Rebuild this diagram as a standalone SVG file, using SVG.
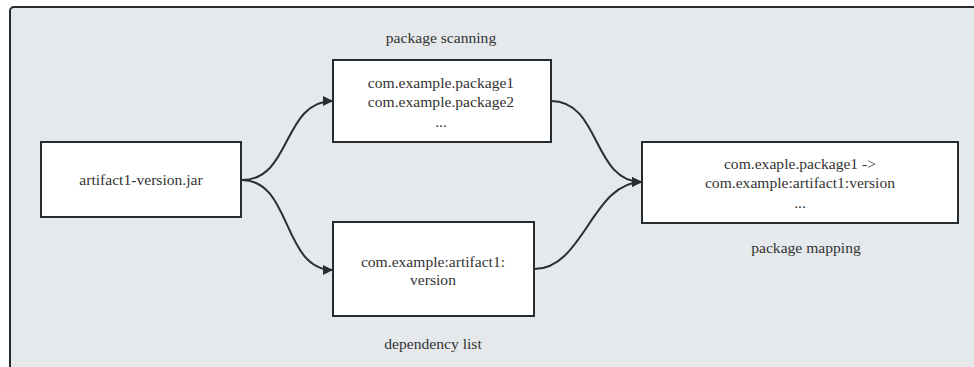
<svg xmlns="http://www.w3.org/2000/svg" width="974" height="367" viewBox="0 0 974 367">
  <defs>
    <marker id="arrow" viewBox="0 0 10 10" refX="10" refY="5" markerWidth="11" markerHeight="10" markerUnits="userSpaceOnUse" orient="auto">
      <path d="M0,0 L10,5 L0,10 z" fill="#2b2d30"/>
    </marker>
  </defs>

  <!-- enclosing panel -->
  <rect x="10" y="7" width="980" height="380" rx="4" ry="4" fill="#e5e9ec" stroke="#272c31" stroke-width="2"/>

  <!-- connectors -->
  <g id="edges" fill="none" stroke="#2b2d30" stroke-width="2" marker-end="url(#arrow)">
    <path d="M242,180 C292,180 282,101 333,101"/>
    <path d="M242,180 C292,180 282,270 333,270"/>
    <path d="M551,101 C601,101 592,182 642,182"/>
    <path d="M534,269 C584,269 592,182 642,182"/>
  </g>

  <!-- nodes: shared box and caption looks set once on the wrapper -->
  <g id="nodes" fill="#ffffff" stroke="#272c31" stroke-width="2">
    <g id="jar">
      <rect x="41" y="142" width="200" height="75"/>
      <text font-family="Times New Roman, Liberation Serif, serif" font-size="15.6" fill="#333333" stroke="none" text-anchor="middle" x="141" y="185">artifact1-version.jar</text>
    </g>

    <g id="scanning">
      <rect x="333" y="60" width="218" height="82"/>
      <text font-family="Times New Roman, Liberation Serif, serif" font-size="15.6" fill="#333333" stroke="none" text-anchor="middle" x="441" y="43">package scanning</text>
      <text font-family="Times New Roman, Liberation Serif, serif" font-size="15.6" fill="#333333" stroke="none" text-anchor="middle" x="441" y="88">com.example.package1</text>
      <text font-family="Times New Roman, Liberation Serif, serif" font-size="15.6" fill="#333333" stroke="none" text-anchor="middle" x="441" y="107">com.example.package2</text>
      <text font-family="Times New Roman, Liberation Serif, serif" font-size="15.6" fill="#333333" stroke="none" text-anchor="middle" x="441" y="127">...</text>
    </g>

    <g id="dependency">
      <rect x="333" y="222" width="201" height="94"/>
      <text font-family="Times New Roman, Liberation Serif, serif" font-size="15.6" fill="#333333" stroke="none" text-anchor="middle" x="433" y="267">com.example:artifact1:</text>
      <text font-family="Times New Roman, Liberation Serif, serif" font-size="15.6" fill="#333333" stroke="none" text-anchor="middle" x="433" y="285">version</text>
      <text font-family="Times New Roman, Liberation Serif, serif" font-size="15.6" fill="#333333" stroke="none" text-anchor="middle" x="433" y="349">dependency list</text>
    </g>

    <g id="mapping">
      <rect x="642" y="142" width="316" height="81"/>
      <text font-family="Times New Roman, Liberation Serif, serif" font-size="15.6" fill="#333333" stroke="none" text-anchor="middle" x="800" y="169">com.exaple.package1 -&gt;</text>
      <text font-family="Times New Roman, Liberation Serif, serif" font-size="15.6" fill="#333333" stroke="none" text-anchor="middle" x="800" y="188">com.example:artifact1:version</text>
      <text font-family="Times New Roman, Liberation Serif, serif" font-size="15.6" fill="#333333" stroke="none" text-anchor="middle" x="800" y="208">...</text>
      <text font-family="Times New Roman, Liberation Serif, serif" font-size="15.6" fill="#333333" stroke="none" text-anchor="middle" x="806" y="253">package mapping</text>
    </g>
  </g>
</svg>
